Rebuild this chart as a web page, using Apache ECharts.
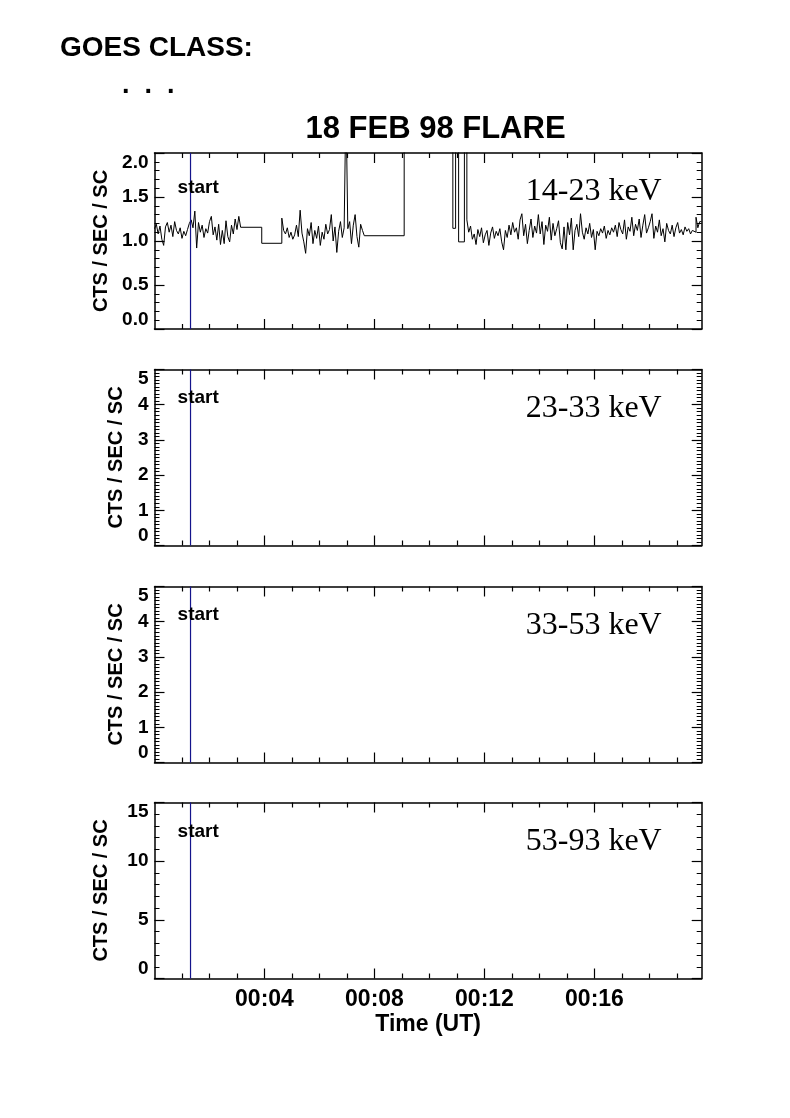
<!DOCTYPE html>
<html><head><meta charset="utf-8">
<script src="https://cdn.jsdelivr.net/npm/echarts@6/dist/echarts.min.js"></script>
<style>html,body{margin:0;padding:0;background:#fff}#c{width:790px;height:1118px}</style>
</head><body><div id="c"></div>
<script>
// ---------- data (time in minutes after 00:00 UT, rates in cts/sec/sc) ----------
const binMin = 4 / 60;               // 4-second accumulation bins
const seg1Start = 0.0;
const seg1Rate = [1.14,1.19,1.08,1.17,1.02,0.95,1.16,1.21,1.10,1.18,1.05,1.22,1.12,1.08,1.15,1.03,1.11,1.06,1.13,1.20,
                  1.24,1.15,1.34,0.92,1.21,1.10,1.18,1.04,1.14,1.09,1.22,1.28,1.07,1.16,1.01,1.19,0.96,1.12,0.97,1.23,
                  1.05,0.99,1.18,1.08,1.25,1.13,1.28];
const seg3Start = 4.63;
const seg3Rate = [1.26,1.12,1.08,1.15,1.04,1.10,1.02,1.07,1.18,1.05,1.35,1.09,0.99,0.86,1.14,1.06,1.21,0.97,1.12,1.03,
                  1.17,0.95,1.10,1.02,1.19,1.08,1.13,1.30,1.00,1.16,0.87,1.11,1.22,1.04,1.15,2.60,1.14,1.22,0.97,1.18,
                  1.30,1.05,0.93,1.19,1.12];
const seg5Start = 11.36;
const seg5Rate = [1.24,1.10,1.17,1.02,1.08,0.96,1.13,1.05,1.15,0.98,1.07,1.12,0.95,1.09,1.16,1.03,1.11,1.06,1.14,0.99,
                  0.90,1.12,1.04,1.18,1.07,1.21,1.10,1.15,1.02,1.24,1.31,1.06,1.19,0.97,1.12,1.25,1.04,1.17,1.09,1.30,
                  1.08,1.22,0.96,1.18,1.11,1.27,1.01,1.20,1.06,1.14,1.23,0.98,0.91,1.16,0.90,1.21,1.07,1.26,0.90,1.12,
                  1.19,1.05,1.31,1.10,1.02,1.15,1.08,1.20,1.04,1.13,0.90,1.11,1.06,1.14,1.09,1.17,1.03,1.12,1.07,1.15,
                  1.10,1.18,1.05,1.21,1.13,1.08,1.24,1.02,1.16,1.11,1.27,1.06,1.19,1.12,1.25,1.04,1.18,1.30,1.09,1.15,
                  1.22,1.31,1.03,1.17,1.10,1.24,1.06,1.14,0.99,1.20,1.12,1.08,1.18,1.05,1.15,1.21,1.09,1.13,1.07,1.16,
                  1.11,1.14,1.08,1.12,1.10,1.27,1.15,1.22];
// long accumulations / data gaps between the noisy segments (values > 2 are off scale)
const gapTimes = [3.133, 3.90, 7.63, 9.08, 10.85, 10.95, 11.06, 11.27];
const gapRates = [1.156, 0.974, 1.06, 2.60, 1.144, 2.60, 0.99, 2.60];

const bands = ['14-23 keV', '23-33 keV', '33-53 keV', '53-93 keV'];
const yMax = [2, 5, 5, 15];
const yStep = [0.5, 1, 1, 5];
const yMinorSplit = [5, 10, 10, 5];
const startTime = 1.31;
const startLabelY = [1.6, 4.2, 4.2, 12.5];
const xMajorTicks = [4, 8, 12, 16];
const xMinorTicks = [1, 2, 3, 5, 6, 7, 9, 10, 11, 13, 14, 15, 17, 18, 19];
const xMin = 0, xMax = 19.9;

// ---------- build step series ----------
const pts = [];
seg1Rate.forEach((v, i) => pts.push([seg1Start + i * binMin, v]));
seg3Rate.forEach((v, i) => pts.push([seg3Start + i * binMin, v]));
seg5Rate.forEach((v, i) => pts.push([seg5Start + i * binMin, v]));
gapTimes.forEach((t, i) => pts.push([t, gapRates[i]]));
pts.push([seg5Start + seg5Rate.length * binMin, seg5Rate[seg5Rate.length - 1]]);
pts.sort((a, b) => a[0] - b[0]);

// ---------- layout ----------
const L = 154.5, R = 88.3, H = 176;
const tops = [153, 369.5, 586.5, 802.5];
const yNameGap = [43, 28.5, 28.5, 43];
const FONT = '"Liberation Sans", Arial, Helvetica, sans-serif';
const black = '#000';

const grids = [], xAxes = [], yAxes = [], series = [], graphics = [];
for (let g = 0; g < 4; g++) {
  grids.push({left: L, right: R, top: tops[g], height: H, containLabel: false});
  const isLast = g === 3;
  const mkX = (pos, major) => ({
    gridIndex: g, type: 'value', min: xMin, max: xMax, position: pos,
    axisLine: {show: major, onZero: false, lineStyle: {color: black, width: 1.5}},
    axisTick: {show: true, inside: true, length: major ? 10 : 5,
      customValues: major ? xMajorTicks : xMinorTicks, lineStyle: {color: black, width: 1.2}},
    axisLabel: {show: major && pos === 'bottom' && isLast, customValues: xMajorTicks,
      formatter: v => '00:' + String(v).padStart(2, '0'),
      fontFamily: FONT, fontWeight: 'bold', fontSize: 23, color: black, margin: 10},
    splitLine: {show: false},
    name: (major && pos === 'bottom' && isLast) ? 'Time (UT)' : '',
    nameLocation: 'middle', nameGap: 35,
    nameTextStyle: {fontFamily: FONT, fontWeight: 'bold', fontSize: 23, color: black}
  });
  xAxes.push(mkX('bottom', true), mkX('bottom', false), mkX('top', true), mkX('top', false));
  const mkY = (pos) => ({
    gridIndex: g, type: 'value', min: 0, max: yMax[g], interval: yStep[g], position: pos,
    axisLine: {show: true, onZero: false, lineStyle: {color: black, width: 1.5}},
    axisTick: {show: true, inside: true, length: 10, lineStyle: {color: black, width: 1.2}},
    minorTick: {show: true, splitNumber: yMinorSplit[g], length: 5, lineStyle: {color: black, width: 1}},
    axisLabel: {show: pos === 'left', fontFamily: FONT, fontWeight: 'bold', fontSize: 19, color: black, margin: 6,
      formatter: v => g === 0 ? v.toFixed(1) : String(v),
      verticalAlignMinLabel: 'bottom', verticalAlignMaxLabel: 'top'},
    splitLine: {show: false}, minorSplitLine: {show: false},
    name: pos === 'left' ? 'CTS / SEC / SC' : '',
    nameLocation: 'middle', nameGap: yNameGap[g],
    nameTextStyle: {fontFamily: FONT, fontWeight: 'bold', fontSize: 20, color: black}
  });
  yAxes.push(mkY('left'), mkY('right'));

  const xi = g * 4, yi = g * 2;
  if (g === 0) {
    series.push({type: 'line', xAxisIndex: xi, yAxisIndex: yi, data: pts, step: 'end',
      showSymbol: false, symbol: 'none', clip: true, lineStyle: {color: '#000', width: 1}, z: 3});
  }
  series.push({type: 'line', xAxisIndex: xi, yAxisIndex: yi, data: [[startTime, 0], [startTime, yMax[g]]],
    showSymbol: false, symbol: 'none', clip: true, lineStyle: {color: '#14148c', width: 1.2}, z: 4});
  series.push({type: 'scatter', xAxisIndex: xi, yAxisIndex: yi, data: [[startTime - 0.47, startLabelY[g]]],
    symbolSize: 0, silent: true, z: 5, itemStyle: {opacity: 1},
    label: {show: true, position: 'right', distance: 0, formatter: 'start', opacity: 1,
      fontFamily: FONT, fontWeight: 'bold', fontSize: 19, color: black}});
  graphics.push({type: 'text', z: 10, style: {text: bands[g], x: 790 - R - 40, y: tops[g] + 39,
    align: 'right', verticalAlign: 'middle', font: '32px "Liberation Serif", "Times New Roman", serif', fill: black}});
}
graphics.push({type: 'text', style: {text: 'GOES CLASS:', x: 60, y: 48, align: 'left', verticalAlign: 'middle',
  font: 'bold 28px ' + FONT, fill: black}});
graphics.push({type: 'text', style: {text: '.  .  .', x: 122, y: 86, align: 'left', verticalAlign: 'middle',
  font: 'bold 27px ' + FONT, fill: black}});
graphics.push({type: 'text', style: {text: '18 FEB 98 FLARE', x: 435.5, y: 129, align: 'center', verticalAlign: 'middle',
  font: 'bold 31px ' + FONT, fill: black}});

const chart = echarts.init(document.getElementById('c'), null, {renderer: 'canvas'});
chart.setOption({
  animation: false, backgroundColor: '#fff',
  grid: grids, xAxis: xAxes, yAxis: yAxes, series: series, graphic: graphics
});
</script></body></html>
